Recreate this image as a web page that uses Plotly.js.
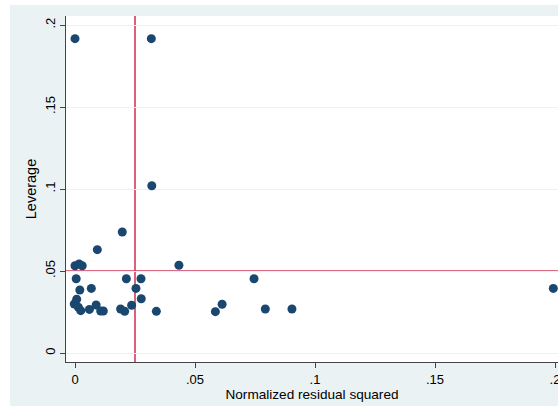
<!DOCTYPE html>
<html>
<head>
<meta charset="utf-8">
<script src="https://cdn.plot.ly/plotly-3.0.1.min.js"></script>
<style>
  html, body { margin: 0; padding: 0; background: #ffffff; width: 558px; height: 406px; overflow: hidden; }
  #chart { position: absolute; left: 10px; top: 5px; width: 548px; height: 401px; }
</style>
</head>
<body>
<div id="chart"></div>
<script>
// Normalized residual squared (x) and leverage (y)
const residSq = [
  0.0000, 0.0318, 0.0320, 0.0197, 0.0093, 0.0433,
  0.0000, 0.0017, 0.0030, 0.0005, 0.0020, 0.0068,
  0.0214, 0.0275, 0.0254, 0.0276, 0.0236, 0.0190,
  0.0207, 0.0339,
  0.0007, -0.0003, 0.0014, 0.0024, 0.0060, 0.0088, 0.0107, 0.0118,
  0.0585, 0.0613, 0.0746, 0.0793, 0.0904,
  0.1993
];
const leverage = [
  0.1917, 0.1917, 0.1020, 0.0738, 0.0630, 0.0535,
  0.0532, 0.0543, 0.0532, 0.0453, 0.0384, 0.0394,
  0.0453, 0.0453, 0.0394, 0.0331, 0.0291, 0.0268,
  0.0254, 0.0254,
  0.0328, 0.0299, 0.0279, 0.0258, 0.0266, 0.0293, 0.0256, 0.0256,
  0.0252, 0.0297, 0.0453, 0.0268, 0.0268,
  0.0394
];
const meanResidSq = 0.025;
const meanLeverage = 0.05;

const xTickVals = [0, 0.05, 0.1, 0.15, 0.2];
const xTickText = ["0", ".05", ".1", ".15", ".2"];
const yTickVals = [0, 0.05, 0.1, 0.15, 0.2];
const yTickText = ["0", ".05", ".1", ".15", ".2"];

const family = "Liberation Sans, Arial, sans-serif";
const font = { family: family, size: 13, color: "#000000" };
const red = "#d23a5e";

const data = [{
  type: "scatter",
  mode: "markers",
  x: residSq,
  y: leverage,
  marker: { color: "#1a476f", size: 9, line: { width: 0 } },
  cliponaxis: false,
  hoverinfo: "x+y"
}];

const layout = {
  width: 548,
  height: 401,
  margin: { l: 56, r: 0, t: 11, b: 44, pad: 0 },
  paper_bgcolor: "#eaf2f3",
  plot_bgcolor: "#ffffff",
  font: font,
  showlegend: false,
  xaxis: {
    range: [-0.00375, 0.20125],
    tickvals: xTickVals,
    ticktext: xTickText,
    ticks: "outside",
    ticklen: 5,
    tickcolor: "#444444",
    showline: true,
    linecolor: "#444444",
    linewidth: 1,
    showgrid: false,
    zeroline: false,
    tickfont: font,
    ticklabeloverflow: "allow",
    title: { text: "Normalized residual squared", font: { family: family, size: 13.6, color: "#000000" }, standoff: 1 }
  },
  yaxis: {
    range: [-0.00549, 0.2055],
    tickvals: yTickVals,
    ticktext: yTickText,
    tickangle: -90,
    ticks: "outside",
    ticklen: 5,
    tickcolor: "#444444",
    showline: true,
    linecolor: "#444444",
    linewidth: 1,
    showgrid: true,
    gridcolor: "#eaf2f3",
    gridwidth: 1,
    zeroline: false,
    tickfont: font,
    title: { text: "Leverage", font: { family: family, size: 14.5, color: "#000000" }, standoff: 2 }
  },
  shapes: [
    { type: "line", xref: "x", yref: "paper", x0: meanResidSq, x1: meanResidSq, y0: 0, y1: 1,
      line: { color: red, width: 1.6 }, layer: "below" },
    { type: "line", xref: "paper", yref: "y", x0: 0, x1: 1, y0: meanLeverage, y1: meanLeverage,
      line: { color: red, width: 1.6 }, layer: "below" }
  ]
};

Plotly.newPlot("chart", data, layout, { displayModeBar: false, staticPlot: true });
</script>
</body>
</html>
